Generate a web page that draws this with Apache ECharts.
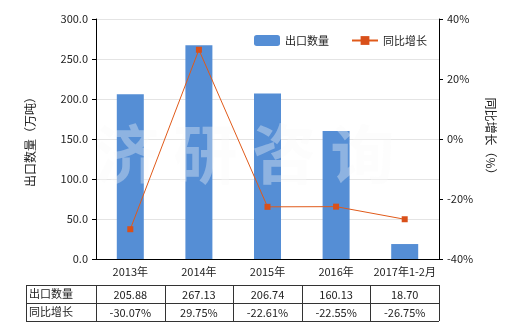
<!DOCTYPE html>
<html><head><meta charset="utf-8">
<script src="https://cdn.jsdelivr.net/npm/echarts@6/dist/echarts.min.js"></script>
<style>html,body{margin:0;padding:0;background:#fff}#c{width:520px;height:330px}</style>
</head><body><div id="c"></div>
<script>
var categories = ['2013年', '2014年', '2015年', '2016年', '2017年1-2月'];
var exportQty = [205.88, 267.13, 206.74, 160.13, 18.70];
var yoyGrowth = [-30.07, 29.75, -22.61, -22.55, -26.75];
var qtyLabels = ['205.88', '267.13', '206.74', '160.13', '18.70'];
var yoyLabels = ['-30.07%', '29.75%', '-22.61%', '-22.55%', '-26.75%'];
var seriesNames = ['出口数量', '同比增长'];

var FONT = 'Noto Sans CJK SC';
var chart = echarts.init(document.getElementById('c'));
var gridL = 96, gridR = 439, gridT = 19, gridB = 259;
var option = {
  animation: false,
  textStyle: {fontFamily: FONT},
  grid: {left: gridL, right: 520 - gridR, top: gridT, bottom: 330 - gridB},
  legend: {
    data: [seriesNames[0], seriesNames[1]],
    left: 249, top: 30, itemGap: 22, itemWidth: 26, itemHeight: 11,
    textStyle: {fontSize: 11, color: '#222', fontFamily: FONT}
  },
  xAxis: {
    type: 'category', data: categories, boundaryGap: true,
    axisLine: {lineStyle: {color: '#000'}},
    axisTick: {alignWithLabel: true, length: 4, lineStyle: {color: '#000'}},
    axisLabel: {interval: 0, fontSize: 11, color: '#222', margin: 7, fontFamily: FONT}
  },
  yAxis: [{
    type: 'value', min: 0, max: 300, interval: 50, position: 'left',
    name: '出口数量（万吨）', nameLocation: 'middle', nameRotate: 90, nameGap: 60,
    nameTextStyle: {fontSize: 12, color: '#222', fontFamily: FONT},
    axisLine: {show: true, lineStyle: {color: '#000'}},
    axisTick: {show: true, length: 4, lineStyle: {color: '#000'}},
    axisLabel: {fontSize: 11, color: '#222', formatter: function(v){return v.toFixed(1);}, fontFamily: FONT},
    splitLine: {lineStyle: {color: '#e4e4e4'}}
  }, {
    type: 'value', min: -40, max: 40, interval: 20, position: 'right',
    name: '同比增长（%）', nameLocation: 'middle', nameRotate: -90, nameGap: 46,
    nameTextStyle: {fontSize: 12, color: '#222', fontFamily: FONT},
    axisLine: {show: true, lineStyle: {color: '#000'}},
    axisTick: {show: true, length: 4, lineStyle: {color: '#000'}},
    axisLabel: {fontSize: 11, color: '#222', formatter: '{value}%', fontFamily: FONT},
    splitLine: {show: false}
  }],
  series: [{
    name: seriesNames[0], type: 'bar', data: exportQty, barWidth: 27,
    itemStyle: {color: '#558ed5'}, z: 2
  }, {
    name: seriesNames[1], type: 'line', yAxisIndex: 1, data: yoyGrowth,
    symbol: 'rect', symbolSize: 6,
    lineStyle: {color: '#e05a1a', width: 1},
    itemStyle: {color: '#d9501a'}, z: 4
  }]
};
chart.setOption(option);

function buildGraphics() {
  var els = [];
  // watermark
  els.push({type: 'text', left: 95, top: 122, z: 3, silent: true,
    style: {text: '济 研 咨 询', fill: 'rgba(248,248,248,0.35)', font: 'bold 64px "Noto Sans CJK SC"'}});
  var tableTop = 285, rowH = 18, tableLeft = 26;
  var xs = categories.map(function(c, i){ return chart.convertToPixel({xAxisIndex: 0}, i); });
  var band = xs.length > 1 ? xs[1] - xs[0] : 68;
  var edges = [tableLeft, gridL];
  for (var i = 0; i < xs.length; i++) edges.push(xs[i] + band / 2);
  var right = edges[edges.length - 1];
  var lineStyle = {stroke: '#333', lineWidth: 1};
  for (var r = 0; r <= 2; r++) {
    var y = Math.round(tableTop + r * rowH) + 0.5;
    els.push({type: 'line', shape: {x1: tableLeft, y1: y, x2: right, y2: y}, style: lineStyle});
  }
  for (var e = 0; e < edges.length; e++) {
    var x = Math.round(edges[e]) + 0.5;
    els.push({type: 'line', shape: {x1: x, y1: tableTop, x2: x, y2: tableTop + 2 * rowH}, style: lineStyle});
  }
  var rows = [qtyLabels, yoyLabels];
  for (var r2 = 0; r2 < 2; r2++) {
    var cy = tableTop + r2 * rowH + rowH / 2;
    els.push({type: 'text', x: tableLeft + 3, y: cy,
      style: {text: seriesNames[r2], textVerticalAlign: 'middle', verticalAlign: 'middle', fill: '#222', font: '11px "Noto Sans CJK SC"'}});
    for (var k = 0; k < rows[r2].length; k++) {
      els.push({type: 'text', x: xs[k], y: cy + 1,
        style: {text: rows[r2][k], textAlign: 'center', align: 'center', textVerticalAlign: 'middle', verticalAlign: 'middle', fill: '#222', font: '11px "Noto Sans CJK SC"'}});
    }
  }
  chart.setOption({graphic: {elements: els}});
}
buildGraphics();
</script>
</body></html>
